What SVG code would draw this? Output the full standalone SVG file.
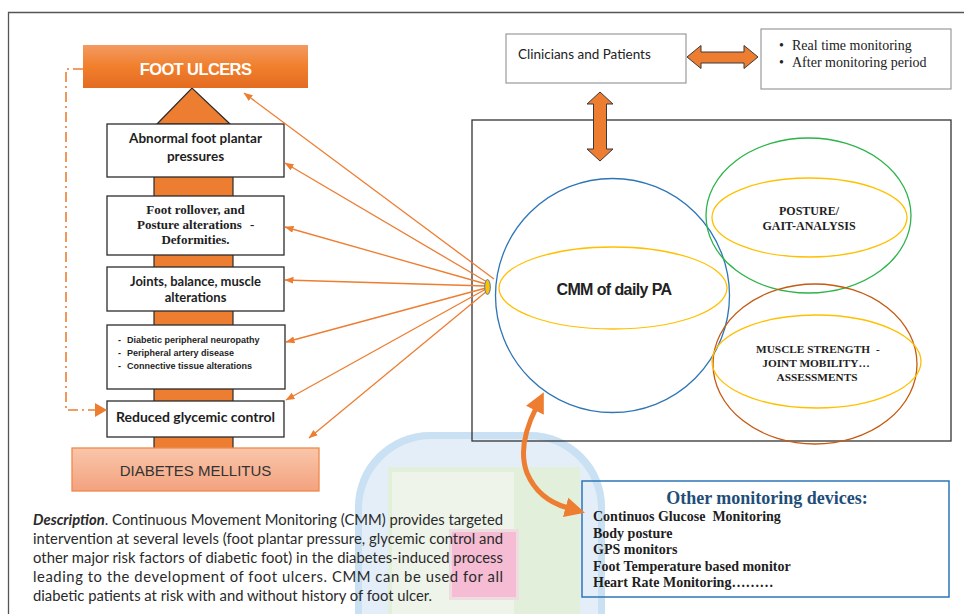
<svg xmlns="http://www.w3.org/2000/svg" width="964" height="614" viewBox="0 0 964 614">
<defs>
  <linearGradient id="gFU" x1="0" y1="0" x2="0" y2="1">
    <stop offset="0" stop-color="#F39A62"/>
    <stop offset="0.5" stop-color="#F17F2C"/>
    <stop offset="1" stop-color="#E36B22"/>
  </linearGradient>
  <linearGradient id="gDM" x1="0" y1="0" x2="0" y2="1">
    <stop offset="0" stop-color="#F9C6AB"/>
    <stop offset="1" stop-color="#F3A27E"/>
  </linearGradient>
  <marker id="ah" markerUnits="userSpaceOnUse" markerWidth="10" markerHeight="8" viewBox="0 0 10 8" refX="8.5" refY="3.5" orient="auto">
    <path d="M0,0 L9,3.5 L0,7 z" fill="#ED7D31"/>
  </marker>
  <marker id="bh" markerUnits="strokeWidth" markerWidth="4" markerHeight="4" viewBox="0 0 4 4" refX="0.5" refY="2" orient="auto-start-reverse">
    <path d="M0,0 L4,2 L0,4 z" fill="#ED7D31"/>
  </marker>
</defs>
<style>
  .box { fill: #ffffff; stroke: #2b2b2b; stroke-width: 1.3; }
  .gbox { fill: #ffffff; stroke: #9a9a9a; stroke-width: 1.2; }
  .lato { font-family: Lato, "Liberation Sans", sans-serif; }
  .serif { font-family: "Liberation Serif", "Times New Roman", serif; }
  .sans { font-family: "Liberation Sans", Arial, sans-serif; }
  .lbl { font-weight: bold; fill: #1e1e1e; }
  .conn { stroke: #ED7D31; stroke-width: 1.3; fill: none; marker-end: url(#ah); }
  .dbl { fill: #ED7D31; stroke: #3a3a3a; stroke-width: 1; }
  .desc { font-family: Lato, "Liberation Sans", sans-serif; font-size: 14.8px; fill: #2a2a2a; }
</style>

<!-- background watermark -->
<g id="watermark">
  <rect x="355" y="432" width="250" height="260" rx="75" fill="#C9E1F2"/>
  <rect x="362" y="439" width="236" height="246" rx="70" fill="#E4EEF8"/>
  <rect x="388" y="467" width="192" height="147" fill="#E2EFDA"/>
  <rect x="392" y="472" width="122" height="142" fill="#EEF4EA"/>
  <rect x="449" y="529" width="70" height="71" fill="#EDDCE0"/>
  <rect x="452" y="532" width="64" height="65" fill="#F5BCD3"/>
</g>

<!-- outer frame lines -->
<g id="frame">
  <path d="M8.5 614 V12.5 H964" fill="none" stroke="#555" stroke-width="1.3"/>
</g>

<!-- central column and triangle -->
<g id="column">
  <rect x="154" y="170" width="79" height="280" fill="#ED7D31" stroke="#2b2b2b" stroke-width="1.2"/>
  <polygon points="157,124 192,88 230,124" fill="#ED7D31" stroke="#2b2b2b" stroke-width="1.2"/>
</g>

<g id="foot-ulcers">
  <rect x="83" y="45" width="225" height="43" fill="url(#gFU)"/>
  <text x="195.5" y="75" text-anchor="middle" class="sans" font-size="16.5" font-weight="bold" letter-spacing="-0.6" fill="#ffffff">FOOT ULCERS</text>
</g>

<g id="box-plantar">
  <rect x="107" y="124" width="177" height="53" class="box"/>
  <text x="195.5" y="143" text-anchor="middle" class="lato lbl" font-size="13.5">Abnormal foot plantar</text>
  <text x="195.5" y="161" text-anchor="middle" class="lato lbl" font-size="13.5">pressures</text>
</g>

<g id="box-rollover">
  <rect x="107" y="196" width="177" height="59" class="box"/>
  <text x="195.5" y="214" text-anchor="middle" class="serif lbl" font-size="13">Foot rollover, and</text>
  <text x="137" y="229" class="serif lbl" font-size="13">Posture alterations</text>
  <text x="250" y="229" class="serif lbl" font-size="13">-</text>
  <text x="195.5" y="244" text-anchor="middle" class="serif lbl" font-size="13">Deformities.</text>
</g>

<g id="box-joints">
  <rect x="107" y="267" width="177" height="44" class="box"/>
  <text x="195.5" y="286" text-anchor="middle" class="lato lbl" font-size="13">Joints, balance, muscle</text>
  <text x="195.5" y="302" text-anchor="middle" class="lato lbl" font-size="13">alterations</text>
</g>

<g id="box-neuropathy">
  <rect x="107" y="325" width="178" height="64" class="box"/>
  <text class="sans lbl" font-size="9">
    <tspan x="118" y="343">-</tspan><tspan x="127" y="343">Diabetic peripheral  neuropathy</tspan>
    <tspan x="118" y="356">-</tspan><tspan x="127" y="356">Peripheral artery disease</tspan>
    <tspan x="118" y="369">-</tspan><tspan x="127" y="369">Connective tissue alterations</tspan>
  </text>
</g>

<g id="box-glycemic">
  <rect x="107" y="401" width="177" height="36" class="box"/>
  <text x="195.5" y="422" text-anchor="middle" class="lato lbl" font-size="14">Reduced glycemic control</text>
</g>

<g id="diabetes">
  <rect x="72" y="448" width="247" height="43" fill="url(#gDM)" stroke="#F0894A" stroke-width="1.3"/>
  <text x="195.5" y="476" text-anchor="middle" class="sans" font-size="15" fill="#333">DIABETES MELLITUS</text>
</g>

<!-- right side -->
<g id="cmm-frame">
  <rect x="472" y="120" width="479" height="321" fill="none" stroke="#333" stroke-width="1.3"/>
</g>

<g id="cmm">
  <circle cx="612.5" cy="295.5" r="117" fill="none" stroke="#2E75B6" stroke-width="1.3"/>
  <ellipse cx="613" cy="288" rx="114" ry="41" fill="none" stroke="#FFC000" stroke-width="1.3"/>
  <text x="614" y="295" text-anchor="middle" class="sans" font-size="16" font-weight="bold" letter-spacing="-0.6" fill="#222">CMM of daily PA</text>
</g>

<g id="posture">
  <ellipse cx="808.5" cy="215.5" rx="102.5" ry="77.5" fill="none" stroke="#2DB34A" stroke-width="1.3"/>
  <ellipse cx="809.5" cy="217.5" rx="97.5" ry="39.5" fill="none" stroke="#FFC000" stroke-width="1.3"/>
  <text x="809" y="215" text-anchor="middle" class="serif lbl" font-size="12">POSTURE/</text>
  <text x="809" y="230" text-anchor="middle" class="serif lbl" font-size="12">GAIT-ANALYSIS</text>
</g>

<g id="muscle">
  <ellipse cx="815" cy="364" rx="102" ry="80" fill="none" stroke="#C55A11" stroke-width="1.3"/>
  <ellipse cx="816.5" cy="361.5" rx="104.5" ry="46.5" fill="none" stroke="#FFC000" stroke-width="1.3"/>
  <text x="813" y="353" text-anchor="middle" class="serif lbl" font-size="11.3">MUSCLE STRENGTH</text>
  <text x="876" y="353" class="serif lbl" font-size="11.3">-</text>
  <text x="816" y="367" text-anchor="middle" class="serif lbl" font-size="11.3">JOINT MOBILITY…</text>
  <text x="817" y="381" text-anchor="middle" class="serif lbl" font-size="11.3">ASSESSMENTS</text>
</g>

<g id="clinicians">
  <rect x="506" y="34" width="180" height="49" class="gbox"/>
  <text x="518" y="59" class="lato" font-size="13.5" fill="#222">Clinicians and Patients</text>
</g>

<g id="monitoring-period">
  <rect x="761" y="29" width="190" height="60" class="gbox"/>
  <text class="serif" font-size="14" fill="#222">
    <tspan x="779" y="50">•</tspan><tspan x="792" y="50">Real time monitoring</tspan>
    <tspan x="779" y="67">•</tspan><tspan x="792" y="67">After monitoring period</tspan>
  </text>
</g>

<g id="other-devices">
  <rect x="582" y="481" width="367" height="116" fill="none" stroke="#2E75B6" stroke-width="1.5"/>
  <text x="767" y="504" text-anchor="middle" class="serif" font-size="18" font-weight="bold" fill="#1F4E79">Other monitoring devices:</text>
  <text class="serif lbl" font-size="14" fill="#1a1a1a">
    <tspan x="593" y="521" xml:space="preserve">Continuos Glucose  Monitoring</tspan>
    <tspan x="593" y="538">Body posture</tspan>
    <tspan x="593" y="554">GPS monitors</tspan>
    <tspan x="593" y="571">Foot Temperature based monitor</tspan>
    <tspan x="593" y="587">Heart Rate Monitoring………</tspan>
  </text>
</g>

<g id="description">
  <text class="desc" x="33" y="525" textLength="470" lengthAdjust="spacing"><tspan font-weight="bold" font-style="italic">Description</tspan>. Continuous Movement Monitoring (CMM) provides targeted</text>
  <text class="desc" x="33" y="544" textLength="470" lengthAdjust="spacing">intervention at several levels (foot plantar pressure, glycemic control and</text>
  <text class="desc" x="33" y="563" textLength="470" lengthAdjust="spacing">other major risk factors of diabetic foot) in the diabetes-induced process</text>
  <text class="desc" x="33" y="582" textLength="470" lengthAdjust="spacing">leading to the development of foot ulcers. CMM can be used for all</text>
  <text class="desc" x="33" y="601">diabetic patients at risk with and without history of foot ulcer.</text>
</g>

<!-- connectors -->
<g id="connectors">
  <line class="conn" x1="494" y1="279" x2="244" y2="93"/>
  <line class="conn" x1="487" y1="282" x2="285" y2="163"/>
  <line class="conn" x1="486" y1="284" x2="285" y2="227"/>
  <line class="conn" x1="486" y1="286" x2="285" y2="280"/>
  <line class="conn" x1="486" y1="288" x2="286" y2="342"/>
  <line class="conn" x1="486" y1="289" x2="286" y2="400"/>
  <line class="conn" x1="487" y1="291" x2="309" y2="438"/>
  <path d="M83 69 H66 V410 H95" fill="none" stroke="#ED7D31" stroke-width="1.6" stroke-dasharray="10 4 2 4"/>
  <polygon points="95,403 107,410 95,417" fill="#ED7D31"/>
  <polygon class="dbl" points="687,57 701,45.5 701,52 744,52 744,45.5 758,57 744,68.5 744,63 701,63 701,68.5"/>
  <polygon class="dbl" points="600,92 613,104 606.5,104 606.5,149 613,149 600,161 587,149 593.5,149 593.5,104 587,104"/>
  <path d="M536 408 C526 428, 519 452, 527 473 C535 492, 550 503, 568 508" fill="none" stroke="#ED7D31" stroke-width="5" marker-start="url(#bh)" marker-end="url(#bh)"/>
  <ellipse cx="487.5" cy="287" rx="2.8" ry="7.5" fill="#FFC000" stroke="#4A7DB5" stroke-width="1"/>
</g>
</svg>
